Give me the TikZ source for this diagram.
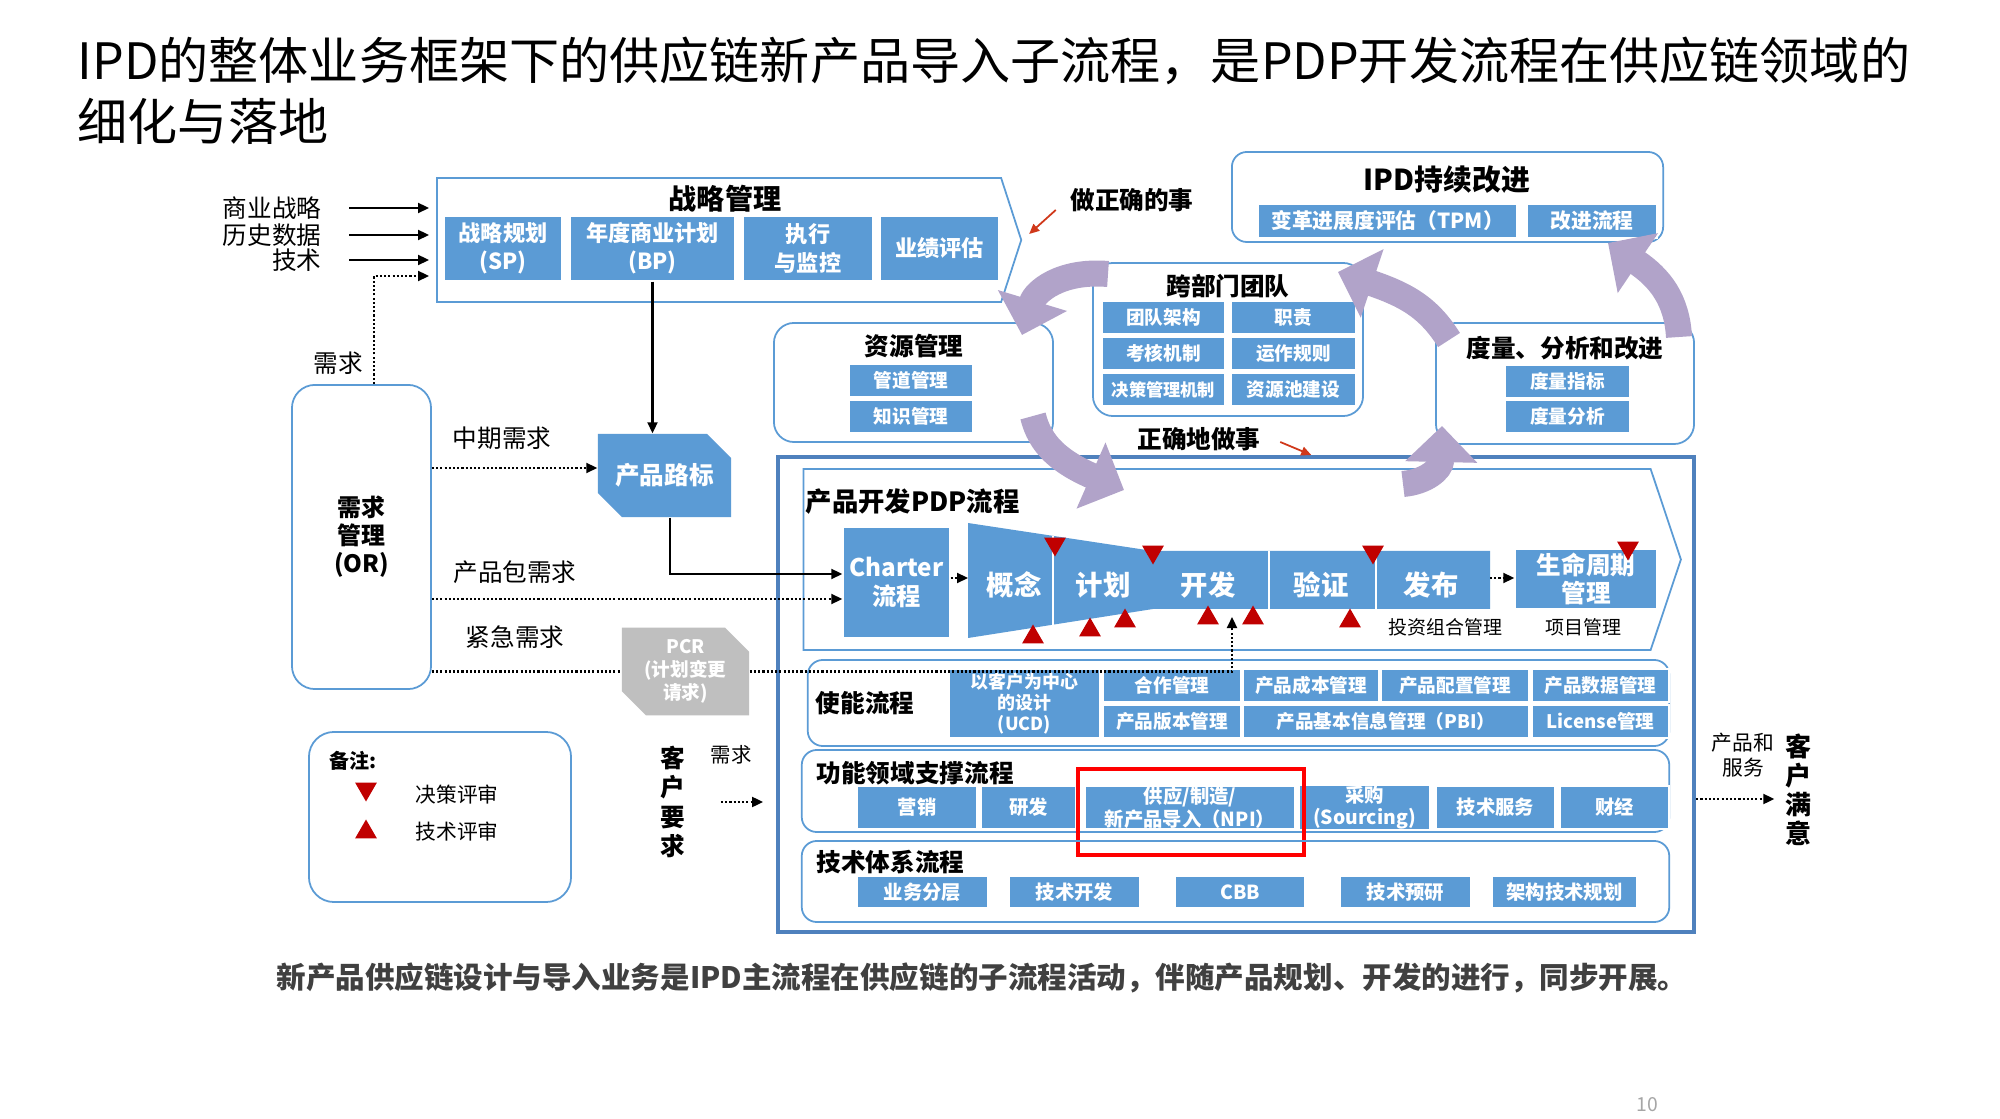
\documentclass[tikz,border=0pt]{standalone}
\usepackage{fontspec}
\setmainfont{Noto Sans CJK SC}
\usetikzlibrary{shapes.geometric,shapes.misc,shapes.symbols,arrows.meta,positioning}
\definecolor{ipdblue}{HTML}{5B9BD5}
\definecolor{lineblue}{HTML}{5B9BD5}
\definecolor{frameblue}{HTML}{4F81BD}
\definecolor{ipdpurple}{HTML}{B1A3C9}
\definecolor{revred}{HTML}{C00000}
\definecolor{arrowred}{HTML}{D0381A}
\definecolor{pcrgray}{HTML}{BFBFBF}
\definecolor{txtgray}{HTML}{404040}

\begin{document}
\begin{tikzpicture}[x=0.01cm, y=-0.01cm,
  blk/.style={rectangle, fill=ipdblue, draw=white, line width=0.4pt, text=white, inner sep=0pt, align=center,
    font=\bfseries\fontsize{5.3}{6.3}\selectfont},
  grp/.style={rectangle, draw=lineblue, line width=0.5pt, rounded corners=0.2cm, inner sep=0pt},
  grptitle/.style={font=\bfseries\fontsize{7}{8}\selectfont, inner sep=0pt},
  lbl/.style={font=\fontsize{7}{8}\selectfont, inner sep=0pt, align=center},
  phase/.style={text=white, inner sep=0pt, font=\bfseries\fontsize{7.8}{9}\selectfont},
  cutbox/.style={chamfered rectangle, chamfered rectangle corners={north east,south west},
    chamfered rectangle xsep=0.12cm, chamfered rectangle ysep=0.12cm, inner sep=0pt, align=center},
  arr/.style={-{Triangle[length=1.1mm,width=1mm]}, line width=0.6pt},
  dotarr/.style={arr, dash pattern=on 0.6pt off 0.6pt},
  dotline/.style={line width=0.6pt, dash pattern=on 0.6pt off 0.6pt},
  redarr/.style={-{Triangle[length=1mm,width=0.9mm]}, line width=0.5pt, arrowred},
  parr/.style={-{Triangle[length=3.6mm,width=7mm]}, line width=2.6mm, ipdpurple},
  dtri/.style={regular polygon, regular polygon sides=3, shape border rotate=180, fill=revred, minimum size=2.5mm, inner sep=0pt},
  utri/.style={regular polygon, regular polygon sides=3, fill=revred, minimum size=2.5mm, inner sep=0pt}
]
  \path[use as bounding box, fill=white] (0,0) rectangle (2000,1119);

  % title
  \node[anchor=west, inner sep=0pt, font=\fontsize{14.25}{17}\selectfont] (title1) at (77,61)
    {IPD的整体业务框架下的供应链新产品导入子流程，是PDP开发流程在供应链领域的};
  \node[anchor=west, inner sep=0pt, font=\fontsize{14.25}{17}\selectfont] (title2) at (77,121) {细化与落地};

  % strategy management
  \node[signal, signal to=east, signal pointer angle=144, draw=lineblue, line width=0.5pt,
    minimum width=5.84cm, minimum height=1.24cm, inner sep=0pt] (strat) at (719,240) {};
  \node[grptitle, font=\bfseries\fontsize{8}{9}\selectfont] (stratt) at (725,199) {战略管理};
  \node[blk, minimum width=1.18cm, minimum height=0.65cm, font=\bfseries\fontsize{6.3}{8}\selectfont] (sp) at (503,248.5) {战略规划\\(SP)};
  \node[blk, minimum width=1.65cm, minimum height=0.65cm, font=\bfseries\fontsize{6.3}{8}\selectfont] (bp) at (652.5,248.5) {年度商业计划\\(BP)};
  \node[blk, minimum width=1.30cm, minimum height=0.65cm, font=\bfseries\fontsize{6.3}{8}\selectfont] (ex) at (808,248.5) {执行\\与监控};
  \node[blk, minimum width=1.19cm, minimum height=0.65cm, font=\bfseries\fontsize{6.3}{8}\selectfont] (pe) at (939.5,248.5) {业绩评估};

  % inputs
  \node[lbl, anchor=east] (in1) at (322,208) {商业战略};
  \node[lbl, anchor=east] (in2) at (322,235) {历史数据};
  \node[lbl, anchor=east] (in3) at (322,260) {技术};
  \foreach \n in {in1,in2,in3}
    \draw[arr, shorten >=0.07cm] ([xshift=0.27cm]\n.east) -- (\n.east -| strat.west);

  % demand management
  \node[grp, rounded corners=0.23cm, minimum width=1.39cm, minimum height=3.04cm, align=center,
    font=\bfseries\fontsize{6.8}{8}\selectfont] (dm) at (361.5,537) {需求\\管理\\(OR)};
  \node[lbl] (xq) at (338,363) {需求};
  \coordinate (dq) at (374,276);
  \draw[dotarr, shorten >=0.07cm] (dm.north -| dq) -- (dq) -- (dq -| strat.west);

  \node[cutbox, fill=ipdblue, text=white, minimum width=1.33cm, minimum height=0.83cm,
    font=\bfseries\fontsize{7}{8}\selectfont] (road) at (664.5,475.5) {产品路标};
  \node[cutbox, fill=pcrgray, text=white, minimum width=1.27cm, minimum height=0.87cm,
    font=\bfseries\fontsize{5.3}{6.5}\selectfont] (pcr) at (685.5,671.5) {PCR\\(计划变更\\请求)};

  \node[lbl] (zqxq) at (502,438) {中期需求};
  \node[lbl] (bxq) at (515,572) {产品包需求};
  \node[lbl] (jjxq) at (515,637) {紧急需求};

  % PDP frame
  \node[draw=frameblue, line width=1.1pt, minimum width=9.16cm, minimum height=4.75cm, inner sep=0pt] (frame) at (1236,694.5) {};
  \node[signal, signal to=east, signal pointer angle=143, draw=lineblue, line width=0.5pt,
    minimum width=8.77cm, minimum height=1.81cm, inner sep=0pt] (pdp) at (1227,559.5) {};
  \node[grptitle, anchor=west, font=\bfseries\fontsize{7.5}{9}\selectfont] (pdpt) at (805,502) {产品开发PDP流程};

  \node[blk, minimum width=1.07cm, minimum height=1.11cm, font=\bfseries\fontsize{6.9}{8.5}\selectfont] (charter) at (896.5,582.5) {Charter\\流程};

  \fill[ipdblue] (968,523) -- (1153,551) -- (1490,551) -- (1490,609) -- (1153,609) -- (968,638) -- cycle;
  \draw[white, line width=0.5pt] (1053,536) -- (1053,625);
  \draw[white, line width=0.5pt] (1269,551) -- (1269,609);
  \draw[white, line width=0.5pt] (1376,551) -- (1376,609);
  \node[phase] (gn) at (1014,585) {概念};
  \node[phase] (jh) at (1103,585) {计划};
  \node[phase] (kf) at (1208,585) {开发};
  \node[phase] (yz) at (1321,585) {验证};
  \node[phase] (fb) at (1431,585) {发布};
  \coordinate (fnw) at (968,578);
  \coordinate (fne) at (1490,578);

  \node[blk, minimum width=1.42cm, minimum height=0.60cm, font=\bfseries\fontsize{7}{8}\selectfont] (lc) at (1586,579) {生命周期\\管理};
  \node[lbl, font=\fontsize{5.4}{6}\selectfont] (tzzh) at (1445,627) {投资组合管理};
  \node[lbl, font=\fontsize{5.4}{6}\selectfont] (xmgl) at (1583,627) {项目管理};

  \foreach \x/\y [count=\i] in {1055/544, 1153/552, 1373/552, 1628/548}
    \node[dtri] (dr\i) at (\x,\y) {};
  \foreach \x/\y [count=\i] in {1033/637, 1090/630, 1125/621, 1208/618, 1253/618, 1350/621}
    \node[utri] (tr\i) at (\x,\y) {};

  % enabling processes
  \node[grp, rounded corners=0.15cm, minimum width=8.61cm, minimum height=0.86cm] (sn) at (1238.5,703) {};
  \node[grptitle] (snt) at (865,703) {使能流程};
  \node[blk, minimum width=1.51cm, minimum height=0.69cm, font=\bfseries\fontsize{5.1}{6}\selectfont] (ucd) at (1024.5,703.5) {以客户为中心\\的设计\\(UCD)};
  \node[blk, minimum width=1.38cm, minimum height=0.33cm] (hz) at (1172,685.5) {合作管理};
  \node[blk, minimum width=1.36cm, minimum height=0.33cm] (cb) at (1311,685.5) {产品成本管理};
  \node[blk, minimum width=1.48cm, minimum height=0.33cm] (pz) at (1455,685.5) {产品配置管理};
  \node[blk, minimum width=1.37cm, minimum height=0.33cm] (sj) at (1600.5,685.5) {产品数据管理};
  \node[blk, minimum width=1.38cm, minimum height=0.33cm] (bb) at (1172,721.5) {产品版本管理};
  \node[blk, minimum width=2.86cm, minimum height=0.33cm] (pbi) at (1386,721.5) {产品基本信息管理（PBI）};
  \node[blk, minimum width=1.37cm, minimum height=0.33cm] (lic) at (1600.5,721.5) {License管理};

  % functional support
  \node[grp, rounded corners=0.15cm, minimum width=8.67cm, minimum height=0.82cm] (gl) at (1235.5,791) {};
  \node[grptitle, anchor=west] (glt) at (816,773) {功能领域支撑流程};
  \node[blk, minimum width=1.20cm, minimum height=0.43cm, font=\bfseries\fontsize{5.5}{6.4}\selectfont] (yx) at (917,807.5) {营销};
  \node[blk, minimum width=0.95cm, minimum height=0.43cm, font=\bfseries\fontsize{5.5}{6.4}\selectfont] (yf) at (1028.5,807.5) {研发};
  \node[blk, minimum width=2.10cm, minimum height=0.43cm, font=\bfseries\fontsize{5.5}{6.4}\selectfont] (npi) at (1190,807.5) {供应/制造/\\新产品导入（NPI）};
  \node[blk, minimum width=1.31cm, minimum height=0.43cm, font=\bfseries\fontsize{5.5}{6.4}\selectfont] (cg) at (1364.5,807.5) {采购\\(Sourcing)};
  \node[blk, minimum width=1.19cm, minimum height=0.43cm, font=\bfseries\fontsize{5.5}{6.4}\selectfont] (jsfw) at (1495.5,807.5) {技术服务};
  \node[blk, minimum width=1.09cm, minimum height=0.43cm, font=\bfseries\fontsize{5.5}{6.4}\selectfont] (cj) at (1614.5,807.5) {财经};
  \node[draw=red, line width=1.1pt, minimum width=2.26cm, minimum height=0.86cm, inner sep=0pt] (hl) at (1191,812) {};

  % technology system
  \node[grp, rounded corners=0.15cm, minimum width=8.67cm, minimum height=0.81cm] (jt) at (1235.5,881.5) {};
  \node[grptitle, anchor=west] (jtt) at (816,862) {技术体系流程};
  \node[blk, minimum width=1.31cm, minimum height=0.32cm, font=\bfseries\fontsize{5.5}{6.4}\selectfont] (ywfc) at (922.5,892) {业务分层};
  \node[blk, minimum width=1.31cm, minimum height=0.32cm, font=\bfseries\fontsize{5.5}{6.4}\selectfont] (jskf) at (1074.5,892) {技术开发};
  \node[blk, minimum width=1.30cm, minimum height=0.32cm, font=\bfseries\fontsize{5.5}{6.4}\selectfont] (cbb) at (1240,892) {CBB};
  \node[blk, minimum width=1.31cm, minimum height=0.32cm, font=\bfseries\fontsize{5.5}{6.4}\selectfont] (jsyy) at (1405.5,892) {技术预研};
  \node[blk, minimum width=1.45cm, minimum height=0.32cm, font=\bfseries\fontsize{5.5}{6.4}\selectfont] (jggh) at (1564.5,892) {架构技术规划};

  % IPD continuous improvement
  \node[grp, rounded corners=0.15cm, minimum width=4.31cm, minimum height=0.90cm] (ipdci) at (1447.5,197) {};
  \node[grptitle, font=\bfseries\fontsize{8.2}{9}\selectfont] (ipdcit) at (1447,180) {IPD持续改进};
  \node[blk, minimum width=2.59cm, minimum height=0.34cm, font=\bfseries\fontsize{5.9}{7}\selectfont] (tpm) at (1387.5,221) {变革进展度评估（TPM）};
  \node[blk, minimum width=1.30cm, minimum height=0.34cm, font=\bfseries\fontsize{5.9}{7}\selectfont] (gjlc) at (1592,221) {改进流程};
  \node[grptitle] (zq) at (1132,200) {做正确的事};

  % cross-functional team
  \node[grp, minimum width=2.70cm, minimum height=1.53cm] (kbm) at (1228,339.5) {};
  \node[grptitle] (kbmt) at (1228,286) {跨部门团队};
  \node[blk, minimum width=1.23cm, minimum height=0.33cm] (tdjg) at (1163.5,317.5) {团队架构};
  \node[blk, minimum width=1.25cm, minimum height=0.33cm] (zz) at (1293.5,317.5) {职责};
  \node[blk, minimum width=1.23cm, minimum height=0.33cm] (khjz) at (1163.5,353.5) {考核机制};
  \node[blk, minimum width=1.25cm, minimum height=0.33cm] (yzgz) at (1293.5,353.5) {运作规则};
  \node[blk, minimum width=1.23cm, minimum height=0.33cm, font=\bfseries\fontsize{4.9}{6}\selectfont] (jcjz) at (1163.5,389.5) {决策管理机制};
  \node[blk, minimum width=1.25cm, minimum height=0.33cm] (zycjs) at (1293.5,389.5) {资源池建设};

  % resource management
  \node[grp, minimum width=2.79cm, minimum height=1.19cm] (zy) at (913.5,382.5) {};
  \node[grptitle] (zyt) at (914,346) {资源管理};
  \node[blk, minimum width=1.24cm, minimum height=0.33cm] (gdgl) at (911,380.5) {管道管理};
  \node[blk, minimum width=1.24cm, minimum height=0.33cm] (zsgl) at (911,416.5) {知识管理};

  % measurement
  \node[grp, minimum width=2.58cm, minimum height=1.21cm] (dl) at (1565,383.5) {};
  \node[grptitle] (dlt) at (1565,348) {度量、分析和改进};
  \node[blk, minimum width=1.25cm, minimum height=0.33cm] (dlzb) at (1567.5,381.5) {度量指标};
  \node[blk, minimum width=1.25cm, minimum height=0.33cm] (dlfx) at (1567.5,416.5) {度量分析};
  \node[grptitle] (zs) at (1199,439) {正确地做事};

  % customer
  \node[inner sep=0pt, align=center, font=\bfseries\fontsize{7.4}{8.3}\selectfont] (cs) at (1798,790) {客\\户\\满\\意};
  \node[lbl, font=\fontsize{5.9}{7}\selectfont] (cpfw) at (1743,755) {产品和\\服务};
  \node[inner sep=0pt, align=center, font=\bfseries\fontsize{7}{8.3}\selectfont] (cr) at (673,802) {客\\户\\要\\求};
  \node[lbl, font=\fontsize{5.8}{7}\selectfont] (xq2) at (731,755) {需求};

  % legend
  \node[grp, rounded corners=0.25cm, minimum width=2.62cm, minimum height=1.70cm] (note) at (440,817) {};
  \node[inner sep=0pt, font=\bfseries\fontsize{5.7}{6.5}\selectfont] (bz) at (353,761) {备注:};
  \node[dtri] (ld) at (366,789) {};
  \node[lbl, font=\fontsize{5.9}{7}\selectfont] (ldt) at (457,795) {决策评审};
  \node[utri] (lu) at (366,832) {};
  \node[lbl, font=\fontsize{5.9}{7}\selectfont] (lut) at (457,832) {技术评审};

  % footer
  \node[inner sep=0pt, text=txtgray, font=\bfseries\fontsize{8.4}{10}\selectfont] (foot) at (982,978)
    {新产品供应链设计与导入业务是IPD主流程在供应链的子流程活动，伴随产品规划、开发的进行，同步开展。};
  \node[inner sep=0pt, text=gray!70, font=\fontsize{5.5}{6}\selectfont] (pg) at (1647,1105) {10};

  % connectors
  \coordinate (c0) at ([yshift=0.075cm]road.west);
  \coordinate (c1) at ([yshift=0.085cm]charter.west);
  \coordinate (c2) at ([yshift=-0.165cm]charter.west);
  \coordinate (kfup) at (1232,617);
  \draw[arr] (bp.south) -- (bp.south |- road.north);
  \draw[dotarr] (dm.east |- c0) -- (c0);
  \draw[arr] ([xshift=0.055cm]road.south) |- (c1);
  \draw[dotarr] (dm.east |- c2) -- (c2);
  \draw[dotline] (dm.east |- pcr.west) -- (pcr.west);
  \draw[dotarr] (pcr.east) -- (pcr.east -| kfup) -- (kfup);
  \draw[dotarr] (charter.east |- fnw) -- (fnw);
  \draw[dotarr] (fne) -- (fne -| lc.west);
  \coordinate (cs0) at ([yshift=-0.09cm]cs.west);
  \draw[dotarr, shorten >=0.1cm] (frame.east |- cs0) -- (cs0);
  \draw[dotarr] ([xshift=0.35cm]cr.east) -- ([xshift=0.77cm]cr.east);
  \draw[redarr] ([shift={(-14,10)}]zq.west) -- ([shift={(7,-6)}]strat.east);
  \draw[redarr] ([shift={(19,3)}]zs.east) -- ([shift={(50,16)}]zs.east);

  % improvement cycle
  \coordinate (p1a) at (1108,274);  \coordinate (p1b) at (1022,335);
  \coordinate (p2a) at (1033,416);  \coordinate (p2b) at (1124,490);
  \coordinate (p3a) at (1403,484);  \coordinate (p3b) at (1442,426);
  \coordinate (p4a) at (1449,340);  \coordinate (p4b) at (1338,272);
  \coordinate (p5a) at (1679,337);  \coordinate (p5b) at (1608,243);
  \draw[parr] (p1a) .. controls (1060,270) and (1035,292) .. (p1b);
  \draw[parr] (p2a) .. controls (1040,445) and (1060,462) .. (p2b);
  \draw[parr] (p3a) .. controls (1425,482) and (1441,470) .. (p3b);
  \draw[parr] (p4a) .. controls (1430,310) and (1410,296) .. (p4b);
  \draw[parr] (p5a) .. controls (1677,300) and (1660,278) .. (p5b);
\end{tikzpicture}
\end{document}
